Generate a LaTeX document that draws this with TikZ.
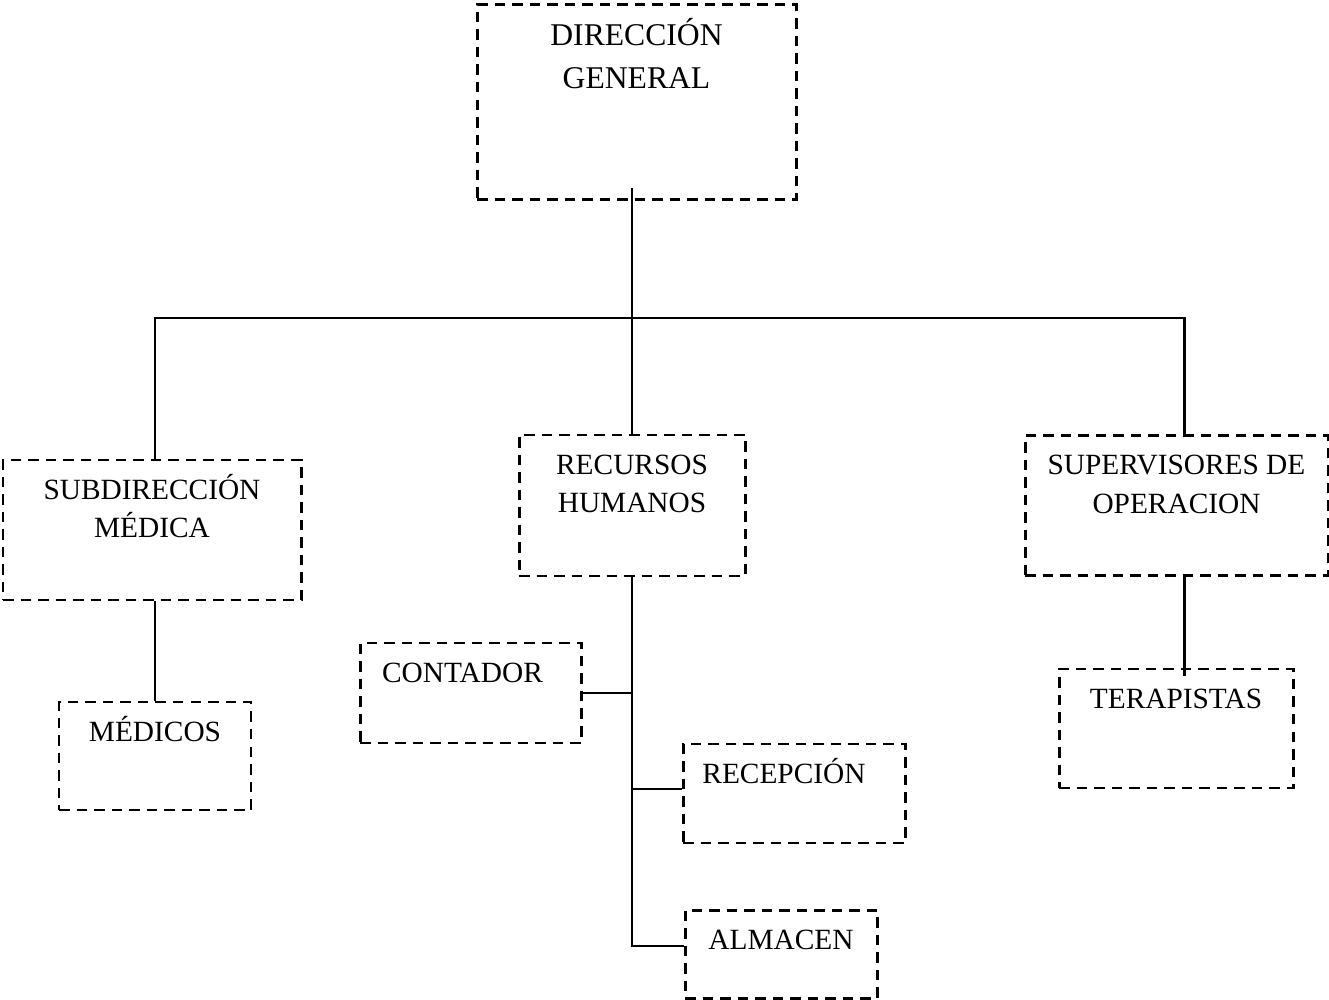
\documentclass[tikz,border=0pt]{standalone}
\usepackage{fontspec}
\setmainfont{Liberation Serif}
\tikzset{box/.style={shape=rectangle, draw=black, line width=0.85pt,
    dash pattern=on 0.105cm off 0.07cm, inner sep=0pt}}
\tikzset{boxtext/.style={anchor=base, align=center, inner sep=0pt,
    yshift=-0.405cm, font=\fontsize{8.35}{11}\selectfont}}
\tikzset{twolines/.style={boxtext, yshift=-11pt}}
\tikzset{link/.style={draw=black, line width=0.6pt}}

\begin{document}
\begin{tikzpicture}
    \useasboundingbox (0,0) rectangle (13.29,-10);

    %%%% Top
    \node[box, minimum width=3.19cm, minimum height=1.95cm,
      label={[boxtext, yshift=-0.02cm, yshift=-12.2pt, font=\fontsize{9}{12.2}\selectfont]north:{DIRECCIÓN\\GENERAL}}] (dg) at (6.365,-1.025) {};

    %%%% Second level
    \node[box, minimum width=2.98cm, minimum height=1.40cm,
      label={[twolines]north:{SUBDIRECCIÓN\\MÉDICA}}] (sub) at (1.52,-5.30) {};
    \node[box, minimum width=2.26cm, minimum height=1.41cm,
      label={[twolines]north:{RECURSOS\\HUMANOS}}] (rh) at (6.32,-5.055) {};
    \node[box, minimum width=3.03cm, minimum height=1.40cm,
      label={[twolines]north:{SUPERVISORES DE\\OPERACION}}] (sup) at (11.765,-5.055) {};

    %%%% Third level
    \node[box, minimum width=1.92cm, minimum height=1.08cm,
      label={[boxtext]north:MÉDICOS}] (med) at (1.55,-7.56) {};
    \node[box, minimum width=2.21cm, minimum height=1.00cm,
      label={[boxtext, xshift=-0.08cm]north:CONTADOR}] (cont) at (4.705,-6.93) {};
    \node[box, minimum width=2.22cm, minimum height=0.99cm,
      label={[boxtext, xshift=-0.1cm]north:RECEPCIÓN}] (rec) at (7.94,-7.935) {};
    \node[box, minimum width=1.92cm, minimum height=0.88cm,
      label={[boxtext]north:ALMACEN}] (alm) at (7.81,-9.54) {};
    \node[box, minimum width=2.34cm, minimum height=1.19cm,
      label={[boxtext]north:TERAPISTAS}] (ter) at (11.76,-7.285) {};

    %%%% Connectors
    \coordinate (bar) at (6.32,-3.18);
    \draw[link] ([yshift=0.13cm]rh.north |- dg.south) -- (rh.north);
    \draw[link] (med.north |- sub.north) -- (med.north |- bar)
      -- ([xshift=0.08cm]sup.north |- bar) -- ([xshift=0.08cm]sup.north);
    \draw[link] (med.north |- sub.south) -- (med.north);
    \draw[link] ([xshift=0.08cm]sup.south) -- ([xshift=0.08cm, yshift=-0.08cm]sup.south |- ter.north);
    \draw[link] (rh.south) -- ([yshift=0.08cm]rh.south |- alm.west) -- ([yshift=0.08cm]alm.west);
    \draw[link] (cont.east) -- (cont.east -| rh.south);
    \draw[link] ([yshift=0.045cm]rec.west) -- ([yshift=0.045cm]rec.west -| rh.south);

\end{tikzpicture}
\end{document}
